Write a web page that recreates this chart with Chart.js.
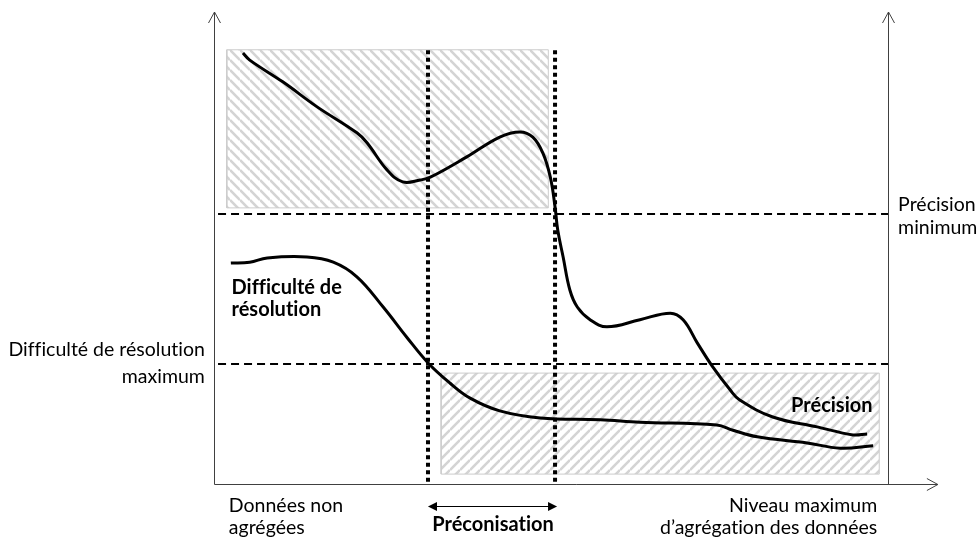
<!DOCTYPE html>
<html>
<head>
<meta charset="utf-8">
<script src="https://cdn.jsdelivr.net/npm/chart.js@4.4.1/dist/chart.umd.min.js"></script>
<style>
  html, body { margin: 0; padding: 0; background: #fff; }
  #wrap { width: 980px; height: 540px; }
</style>
</head>
<body>
<div id="wrap"><canvas id="chart"></canvas></div>
<script>
// x = niveau d'agrégation (0 = données non agrégées, 100 = maximum), y = 0..100
var precisionX = [4.3, 5.3, 10.2, 15.3, 21.2, 22.7, 25.7, 28.0, 30.6, 32.1, 37.5, 42.4, 45.4, 47.3, 48.8, 49.9, 50.6, 51.0, 51.8, 52.8, 53.9, 55.8, 58.3, 63.2, 67.7, 69.6, 71.7, 74.0, 76.6, 78.0, 82.9, 89.5, 94.8, 96.9];
var precisionY = [91.3, 89.8, 85.2, 79.9, 74.4, 72.3, 66.5, 64.0, 64.4, 65.0, 69.3, 73.5, 74.6, 73.5, 70.1, 65.0, 58.7, 53.8, 48.1, 41.1, 37.5, 34.8, 33.3, 34.8, 36.2, 34.8, 29.9, 24.8, 19.9, 17.8, 14.2, 12.1, 10.4, 10.6];

var difficultyX = [2.5, 5.3, 7.9, 13.8, 17.7, 21.2, 25.1, 28.6, 31.8, 35.0, 38.0, 42.4, 48.4, 57.3, 63.2, 74.6, 77.0, 80.6, 88.0, 92.9, 97.8];
var difficultyY = [46.8, 47.0, 47.9, 48.1, 47.0, 43.9, 37.5, 31.1, 25.6, 21.4, 18.2, 15.5, 14.0, 13.6, 13.1, 12.5, 11.4, 10.0, 8.7, 7.6, 8.1];

var precisionMin = 57.2;      // "Précision minimum"
var difficultyMax = 25.4;     // "Difficulté de résolution maximum"
var recommended = [31.75, 50.6];  // zone de préconisation

// zones hachurées [x0, x1], [y0, y1]
var topZoneX = [1.9, 49.6];
var topZoneY = [58.5, 92.0];
var bottomZoneX = [33.7, 98.7];
var bottomZoneY = [2.1, 23.5];

function toPoints(xs, ys) {
    return xs.map(function (x, i) { return { x: x, y: ys[i] }; });
}

function rect(xs, ys) {
    return [
        { x: xs[0], y: ys[0] }, { x: xs[1], y: ys[0] },
        { x: xs[1], y: ys[1] }, { x: xs[0], y: ys[1] }, { x: xs[0], y: ys[0] }
    ];
}

function hatch(dir) {
    var c = document.createElement('canvas');
    c.width = 10; c.height = 10;
    var g = c.getContext('2d');
    g.fillStyle = '#ffffff';
    g.fillRect(0, 0, 10, 10);
    g.strokeStyle = '#d4d4d4';
    g.lineWidth = 2.6;
    for (var k = -1; k <= 2; k++) {
        g.beginPath();
        if (dir == 'back') {
            g.moveTo(0, 10 * k);
            g.lineTo(10, 10 + 10 * k);
        } else {
            g.moveTo(0, 10 * k);
            g.lineTo(10, 10 * k - 10);
        }
        g.stroke();
    }
    return g.createPattern(c, 'repeat');
}

// keep ff / fi / ti apart (no ligatures, like the original)
function noLig(s) {
    return s.replace(/f/g, 'f\u200C').replace(/t/g, 't\u200C');
}

var axisColor = '#404040';

var decorPlugin = {
    id: 'decor',
    afterDraw: function (chart) {
        var ctx = chart.ctx;
        var xs = chart.scales.x, ys = chart.scales.y;
        var px = function (v) { return xs.getPixelForValue(v); };
        var py = function (v) { return ys.getPixelForValue(v); };

        ctx.save();
        // axes
        ctx.strokeStyle = axisColor;
        ctx.lineWidth = 1;
        var x0 = Math.round(px(0)) + 0.5, x1 = Math.round(px(100)) + 0.5;
        var yb = Math.round(py(0)) + 0.5, yt = py(100);
        var xEnd = px(107.4);
        ctx.beginPath();
        ctx.moveTo(x0, yb); ctx.lineTo(x0, yt);
        ctx.moveTo(x1, yb); ctx.lineTo(x1, yt);
        ctx.moveTo(x0, yb); ctx.lineTo(xEnd, yb);
        // open arrow heads
        [x0, x1].forEach(function (x) {
            ctx.moveTo(x - 6, yt + 11); ctx.lineTo(x, yt); ctx.lineTo(x + 6, yt + 11);
        });
        ctx.moveTo(xEnd - 11, yb - 6); ctx.lineTo(xEnd, yb); ctx.lineTo(xEnd - 11, yb + 6);
        ctx.stroke();

        // double arrow of the recommended range
        var ay = Math.round(py(-4.6)) + 0.5;
        var a0 = px(recommended[0]), a1 = px(recommended[1]) + 2;
        ctx.strokeStyle = '#000';
        ctx.fillStyle = '#000';
        ctx.beginPath();
        ctx.moveTo(a0 + 6, ay); ctx.lineTo(a1 - 6, ay);
        ctx.stroke();
        ctx.beginPath();
        ctx.moveTo(a0, ay); ctx.lineTo(a0 + 9, ay - 4.5); ctx.lineTo(a0 + 9, ay + 4.5); ctx.closePath();
        ctx.moveTo(a1, ay); ctx.lineTo(a1 - 9, ay - 4.5); ctx.lineTo(a1 - 9, ay + 4.5); ctx.closePath();
        ctx.fill();

        // texts
        ctx.textBaseline = 'middle';
        var reg = '19.5px Lato, "Open Sans", sans-serif';
        var bold = 'bold 20px Lato, "Open Sans", sans-serif';
        function txt(s, x, y, font, align) {
            ctx.font = font;
            ctx.textAlign = align;
            ctx.fillStyle = '#000';
            ctx.fillText(noLig(s), px(x), py(y));
        }
        txt('Précision', 101.5, 59.1, reg, 'left');
        txt('minimum', 101.5, 54.2, reg, 'left');
        txt('Difficulté de résolution', -1.35, 28.4, reg, 'right');
        txt('maximum', -1.35, 22.7, reg, 'right');
        txt('Difficulté de', 2.6, 41.7, bold, 'left');
        txt('résolution', 2.6, 36.9, bold, 'left');
        txt('Précision', 97.7, 16.6, bold, 'right');
        txt('Données non', 2.2, -4.6, reg, 'left');
        txt('agrégées', 2.2, -9.3, reg, 'left');
        txt('Niveau maximum', 98.4, -4.6, reg, 'right');
        txt('d\u2019agrégation des données', 98.4, -9.3, reg, 'right');
        txt('Préconisation', 41.4, -8.6, bold, 'center');
        ctx.restore();
    }
};

var dash = [8, 5];
var dots = [4, 3.5];

var ctx = document.getElementById('chart');
new Chart(ctx, {
    type: 'line',
    data: {
        datasets: [
            {
                label: 'Précision',
                data: toPoints(precisionX, precisionY),
                borderColor: '#000', borderWidth: 3, tension: 0.4,
                pointRadius: 0, fill: false, order: 1
            },
            {
                label: 'Difficulté de résolution',
                data: toPoints(difficultyX, difficultyY),
                borderColor: '#000', borderWidth: 3, tension: 0.4,
                pointRadius: 0, fill: false, order: 1
            },
            {
                label: 'Précision minimum',
                data: [{ x: 0.6, y: precisionMin }, { x: 100, y: precisionMin }],
                borderColor: '#000', borderWidth: 2, borderDash: dash,
                pointRadius: 0, fill: false, order: 2
            },
            {
                label: 'Difficulté maximum',
                data: [{ x: 0.6, y: difficultyMax }, { x: 100, y: difficultyMax }],
                borderColor: '#000', borderWidth: 2, borderDash: dash,
                pointRadius: 0, fill: false, order: 2
            },
            {
                label: 'Début préconisation',
                data: [{ x: recommended[0], y: 91.9 }, { x: recommended[0], y: 0.4 }],
                borderColor: '#000', borderWidth: 4, borderDash: dots,
                pointRadius: 0, fill: false, order: 2
            },
            {
                label: 'Fin préconisation',
                data: [{ x: recommended[1], y: 91.9 }, { x: recommended[1], y: 0.4 }],
                borderColor: '#000', borderWidth: 4, borderDash: dots,
                pointRadius: 0, fill: false, order: 2
            },
            {
                label: 'Zone haute',
                data: rect(topZoneX, topZoneY),
                borderColor: '#cccccc', borderWidth: 1, backgroundColor: hatch('back'),
                pointRadius: 0, fill: 'shape', tension: 0, order: 3
            },
            {
                label: 'Zone basse',
                data: rect(bottomZoneX, bottomZoneY),
                borderColor: '#cccccc', borderWidth: 1, backgroundColor: hatch('fwd'),
                pointRadius: 0, fill: 'shape', tension: 0, order: 3
            }
        ]
    },
    options: {
        responsive: true,
        maintainAspectRatio: false,
        animation: false,
        layout: { padding: { left: 214, right: 92, top: 12, bottom: 56 } },
        scales: {
            x: { type: 'linear', min: 0, max: 100, display: false },
            y: { type: 'linear', min: 0, max: 100, display: false }
        },
        plugins: {
            legend: { display: false },
            tooltip: { enabled: false }
        }
    },
    plugins: [decorPlugin]
});
</script>
</body>
</html>
